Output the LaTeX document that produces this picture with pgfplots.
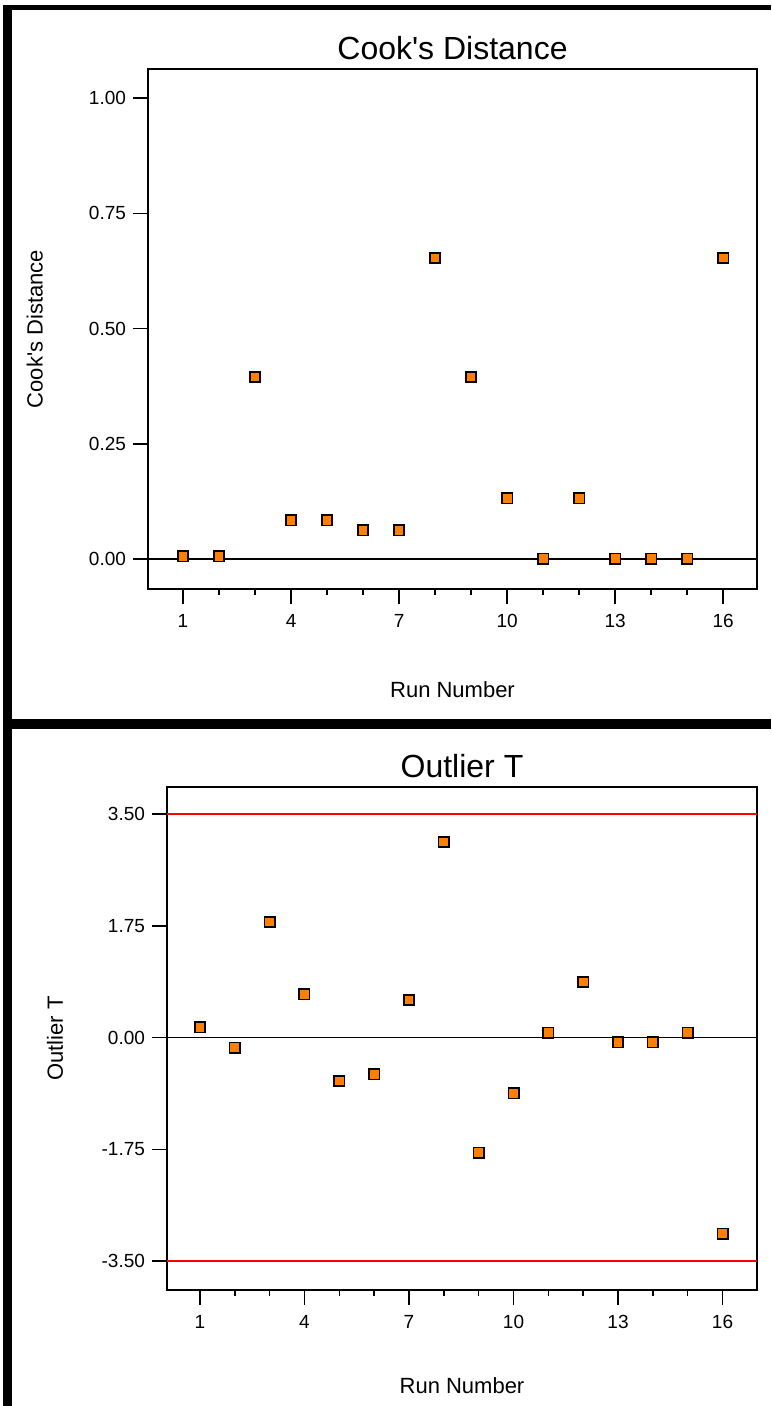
\documentclass[border=0pt]{standalone}
\usepackage{fontspec}
\setmainfont{Liberation Sans}
\usepackage{pgfplots}
\usepackage{pgfplotstable}
\pgfplotsset{compat=1.18}
\definecolor{mk}{RGB}{255,128,0}
\definecolor{refred}{RGB}{255,0,0}

\pgfplotstableread{
run cook
1 0.006
2 0.006
3 0.395
4 0.084
5 0.084
6 0.062
7 0.062
8 0.653
9 0.395
10 0.132
11 0.001
12 0.132
13 0.001
14 0.001
15 0.001
16 0.653
}\cookdata

\pgfplotstableread{
run t
1 0.162
2 -0.157
3 1.809
4 0.674
5 -0.680
6 -0.575
7 0.586
8 3.063
9 -1.804
10 -0.873
11 0.078
12 0.868
13 -0.078
14 -0.078
15 0.078
16 -3.069
}\outdata

\pgfplotsset{
  dxstyle/.style={
    scale only axis,
    axis line style={black, line width=0.75pt},
    every tick/.style={black, line width=0.75pt},
    tick align=outside,
    tick pos=left,
    major tick length=7.5pt,
    minor tick length=3pt,
    xtick={1,4,7,10,13,16},
    xticklabels={1,4,7,10,13,16},
    minor x tick num=2,
    tick label style={font=\fontsize{9.5}{11}\selectfont},
    xticklabel style={yshift=-1.5pt},
    label style={font=\fontsize{11}{13}\selectfont},
    every axis title/.style={at={(0.5,1)}, anchor=base, font=\fontsize{16}{19}\selectfont},
    xlabel={Run Number},
  },
  dxmark/.style={only marks, mark=square*, mark size=2.6pt,
    mark options={fill=mk, draw=black, line width=0.8pt}},
}

\begin{document}
\begin{tikzpicture}
\fill[white] (0,0) rectangle (385.5pt,-703pt);
% frame borders
\fill[black] (1.5pt,-2.5pt) rectangle (6pt,-703pt);
\fill[black] (1.5pt,-2.5pt) rectangle (385.5pt,-5pt);
\fill[black] (1.5pt,-359.5pt) rectangle (385.5pt,-364.5pt);

% Panel 1: Cook's Distance
\begin{axis}[dxstyle,
  at={(74pt,-294.5pt)}, anchor=south west,
  width=304.5pt, height=260pt,
  xmin=0.028, xmax=16.94,
  ymin=-0.065, ymax=1.063,
  ytick={0,0.25,0.5,0.75,1},
  yticklabels={0.00,0.25,0.50,0.75,1.00},
  title={Cook\textquotesingle s Distance},
  title style={at={(axis description cs:0.5,1.019)}},
  ylabel={Cook\textquotesingle s Distance},
  xlabel style={at={(axis description cs:0.5,-0.2077)}, anchor=base},
  ylabel style={at={(axis description cs:-0.173,0.5)}, anchor=base},
]
\addplot[dxmark] table[x=run, y=cook] {\cookdata};
\addplot[black, line width=0.75pt] coordinates {(0.028,0) (16.94,0)};
\end{axis}

% Panel 2: Outlier T
\begin{axis}[dxstyle,
  at={(83.5pt,-645pt)}, anchor=south west,
  width=295pt, height=251.5pt,
  xmin=0.053, xmax=16.99,
  ymin=-3.954, ymax=3.923,
  ytick={-3.5,-1.75,0,1.75,3.5},
  yticklabels={-3.50,-1.75,0.00,1.75,3.50},
  title={Outlier T},
  title style={at={(axis description cs:0.5,1.018)}},
  ylabel={Outlier T},
  xlabel style={at={(axis description cs:0.5,-0.2048)}, anchor=base},
  ylabel style={at={(axis description cs:-0.1763,0.5)}, anchor=base},
]
\addplot[refred, line width=1pt] coordinates {(0.053,3.5) (16.99,3.5)};
\addplot[refred, line width=1pt] coordinates {(0.053,-3.5) (16.99,-3.5)};
\addplot[dxmark] table[x=run, y=t] {\outdata};
\addplot[black, line width=0.75pt] coordinates {(0.053,0) (16.99,0)};
\end{axis}
\end{tikzpicture}
\end{document}
